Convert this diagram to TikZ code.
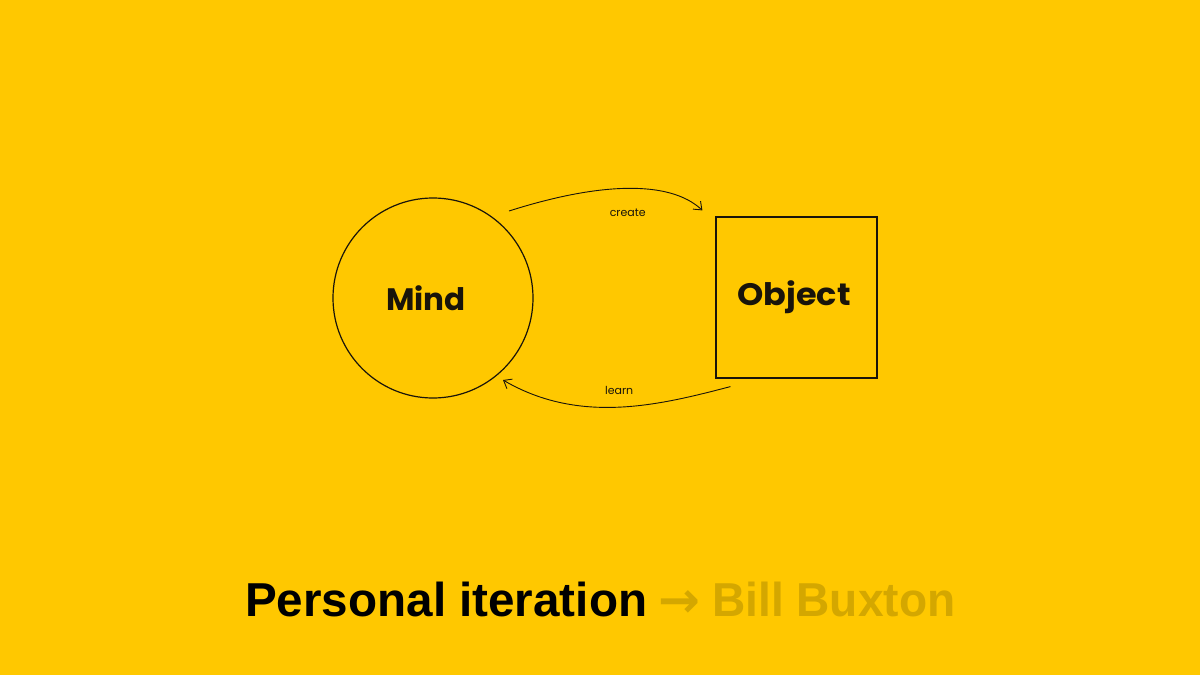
\documentclass[tikz,border=0pt]{standalone}
\usepackage{fontspec}
\usepackage{graphicx}
\setmainfont{Liberation Sans}
\newfontfamily\titlefont{Liberation Sans}
\newfontfamily\arrowfont{DejaVu Sans}
\newfontfamily\handfont{Poppins}
\usetikzlibrary{arrows.meta,calc}
\definecolor{bgyellow}{RGB}{255,200,0}
\definecolor{mustard}{RGB}{212,167,0}
\definecolor{ink}{RGB}{25,20,10}
\tikzset{
  sketch/.style={draw=ink, line width=1.2pt},
  flowarrow/.style={ink, line width=0.9pt, -{Straight Barb[length=7pt,width=11pt]}},
  handlabel/.style={font=\handfont\bfseries\fontsize{31}{36}\selectfont, text=ink},
  smalllabel/.style={font=\handfont\fontsize{11}{13}\selectfont, text=ink},
}
\begin{document}
\begin{tikzpicture}[x=1pt,y=-1pt]
\fill[bgyellow] (0,0) rectangle (1200,675);
\useasboundingbox (0,0) rectangle (1200,675);
\node[sketch, circle, minimum size=200pt, inner sep=0pt] (mind) at (433,298) {};
\node[handlabel, anchor=center] (mindtext) at (426,298) {Mind};
\node[sketch, rectangle, minimum width=161pt, minimum height=161pt, inner sep=0pt] (object) at (796.5,297.5) {};
\node[handlabel, anchor=center, xscale=1.08] (objecttext) at (794,297) {Object};
\draw[flowarrow] ($(mind.center)+(76,-87)$) .. controls (600,182) and (670,180) .. ($(object.north west)+(-13,-6)$)
  node[pos=0.5, below=17pt, smalllabel] (createlbl) {create};
\draw[flowarrow] ($(object.south west)+(15,8)$) .. controls (660,405) and (580,425) .. ($(mind.center)+(70,82)$)
  node[pos=0.5, above=9pt, smalllabel] (learnlbl) {learn};
\node[anchor=base west, inner sep=0pt, font=\titlefont\bfseries\fontsize{47.6}{50}\selectfont] (title) at (245,616)
  {Personal iteration\hspace{11pt}\textcolor{mustard}{\raisebox{-1pt}{\arrowfont\bfseries\fontsize{50}{50}\selectfont →}\hspace{12pt}\scalebox{0.968}[1]{Bill Buxton}}};
\end{tikzpicture}
\end{document}
